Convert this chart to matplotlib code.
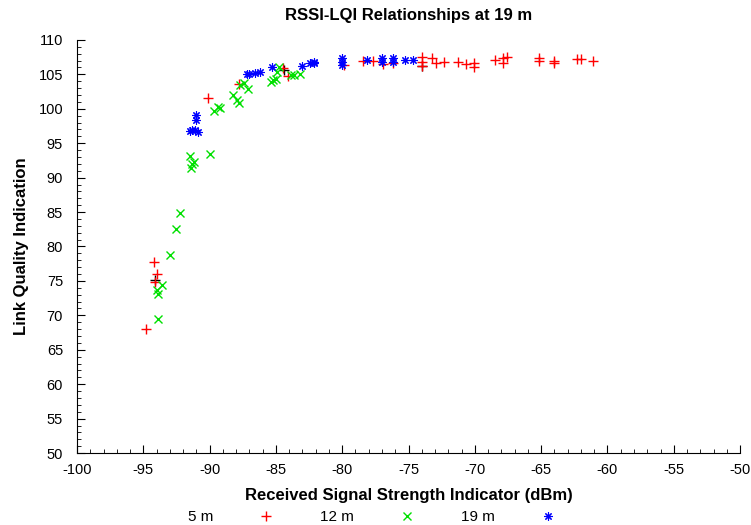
import numpy as np
import matplotlib.pyplot as plt
from matplotlib.ticker import MultipleLocator

# data (RSSI dBm, LQI)
rssi_5m = [-94.8, -94.2, -94.0, -94.1, -90.1, -87.8, -84.5, -84.1, -79.9, -78.4,
           -77.7, -76.9, -76.2, -74.0, -74.0, -74.0, -73.2, -72.9, -72.3, -71.3,
           -70.7, -70.1, -70.1, -68.5, -67.9, -67.9, -67.6, -65.2, -65.2, -64.0,
           -64.0, -62.3, -62.0, -61.1]
lqi_5m = [68.0, 77.8, 76.0, 74.8, 101.5, 103.6, 105.9, 104.8, 106.4, 107.0,
          107.0, 106.5, 106.7, 107.5, 106.8, 106.2, 107.4, 106.7, 106.8, 106.8,
          106.5, 106.7, 106.1, 107.1, 107.4, 106.7, 107.5, 107.4, 107.0, 107.0,
          106.6, 107.2, 107.2, 106.9]

rssi_12m = [-93.0, -93.6, -94.0, -93.9, -93.9, -92.2, -92.5, -91.5, -91.2, -91.3,
            -91.4, -90.0, -89.4, -89.2, -89.7, -88.2, -87.9, -87.8, -87.7, -87.4,
            -87.1, -85.4, -85.2, -84.9, -84.8, -83.9, -83.6, -83.2, -85.0]
lqi_12m = [78.8, 74.4, 73.7, 73.1, 69.5, 84.9, 82.5, 93.1, 92.3, 92.0,
           91.4, 93.4, 100.3, 100.1, 99.7, 102.0, 101.3, 100.8, 103.5, 103.7,
           102.9, 103.9, 104.2, 105.4, 106.1, 104.9, 104.9, 105.1, 104.3]

rssi_19m = [-87.2, -91.0, -91.0, -91.3, -91.1, -90.9, -91.5, -87.0, -86.6, -86.2,
            -85.3, -83.0, -82.4, -82.1, -82.1, -80.0, -80.0, -80.0, -78.1, -77.0,
            -77.0, -76.2, -76.2, -75.3, -74.7]
lqi_19m = [105.1, 99.1, 98.4, 96.9, 96.9, 96.6, 96.8, 105.1, 105.2, 105.4,
           106.0, 106.2, 106.7, 106.6, 106.8, 106.8, 106.4, 107.3, 107.1, 107.4,
           106.8, 107.4, 106.8, 107.1, 107.1]

# a few black points with no legend entry
rssi_other = [-94.1, -74.0, -84.4]
lqi_other = [75.2, 106.2, 105.6]

plt.rcParams['font.family'] = ['Liberation Sans', 'DejaVu Sans']
plt.rcParams['axes.unicode_minus'] = False

fig = plt.figure(figsize=(7.51, 5.25), dpi=100)
ax = fig.add_axes([0.1025, 0.137, 0.883, 0.787])

ax.plot(rssi_other, lqi_other, ls='none', marker='+', color='black', ms=7, mew=1)
ax.plot(rssi_5m, lqi_5m, ls='none', marker='+', color='#ff0000', ms=7, mew=1, label='5 m')
ax.plot(rssi_12m, lqi_12m, ls='none', marker='x', color='#00e000', ms=6, mew=1, label='12 m')
ax.plot(rssi_19m, lqi_19m, ls='none', marker=(8, 2, 0), color='#0000ff', ms=6, mew=0.8, label='19 m')

ax.set_xlim(-100, -50)
ax.set_ylim(50, 110)
ax.xaxis.set_major_locator(MultipleLocator(5))
ax.xaxis.set_minor_locator(MultipleLocator(1))
ax.yaxis.set_major_locator(MultipleLocator(5))
ax.yaxis.set_minor_locator(MultipleLocator(1))
ax.tick_params(which='major', direction='in', length=6, labelsize=10.5, top=False, right=False)
ax.tick_params(axis='x', which='major', pad=7)
ax.tick_params(axis='y', which='major', pad=10)
ax.tick_params(which='minor', direction='in', length=3, top=False, right=False)
ax.spines['top'].set_visible(False)
ax.spines['right'].set_visible(False)

ax.set_title('RSSI-LQI Relationships at 19 m', fontsize=12, fontweight='bold', pad=14)
ax.set_xlabel('Received Signal Strength Indicator (dBm)', fontsize=12, fontweight='bold', labelpad=8)
ax.set_ylabel('Link Quality Indication', fontsize=12, fontweight='bold', labelpad=7)

fig.legend(loc='lower center', bbox_to_anchor=(0.5, -0.025), ncol=3, frameon=False,
           markerfirst=False, fontsize=11, handletextpad=2.5, columnspacing=2.5)

fig.savefig('out.png', dpi=100)
